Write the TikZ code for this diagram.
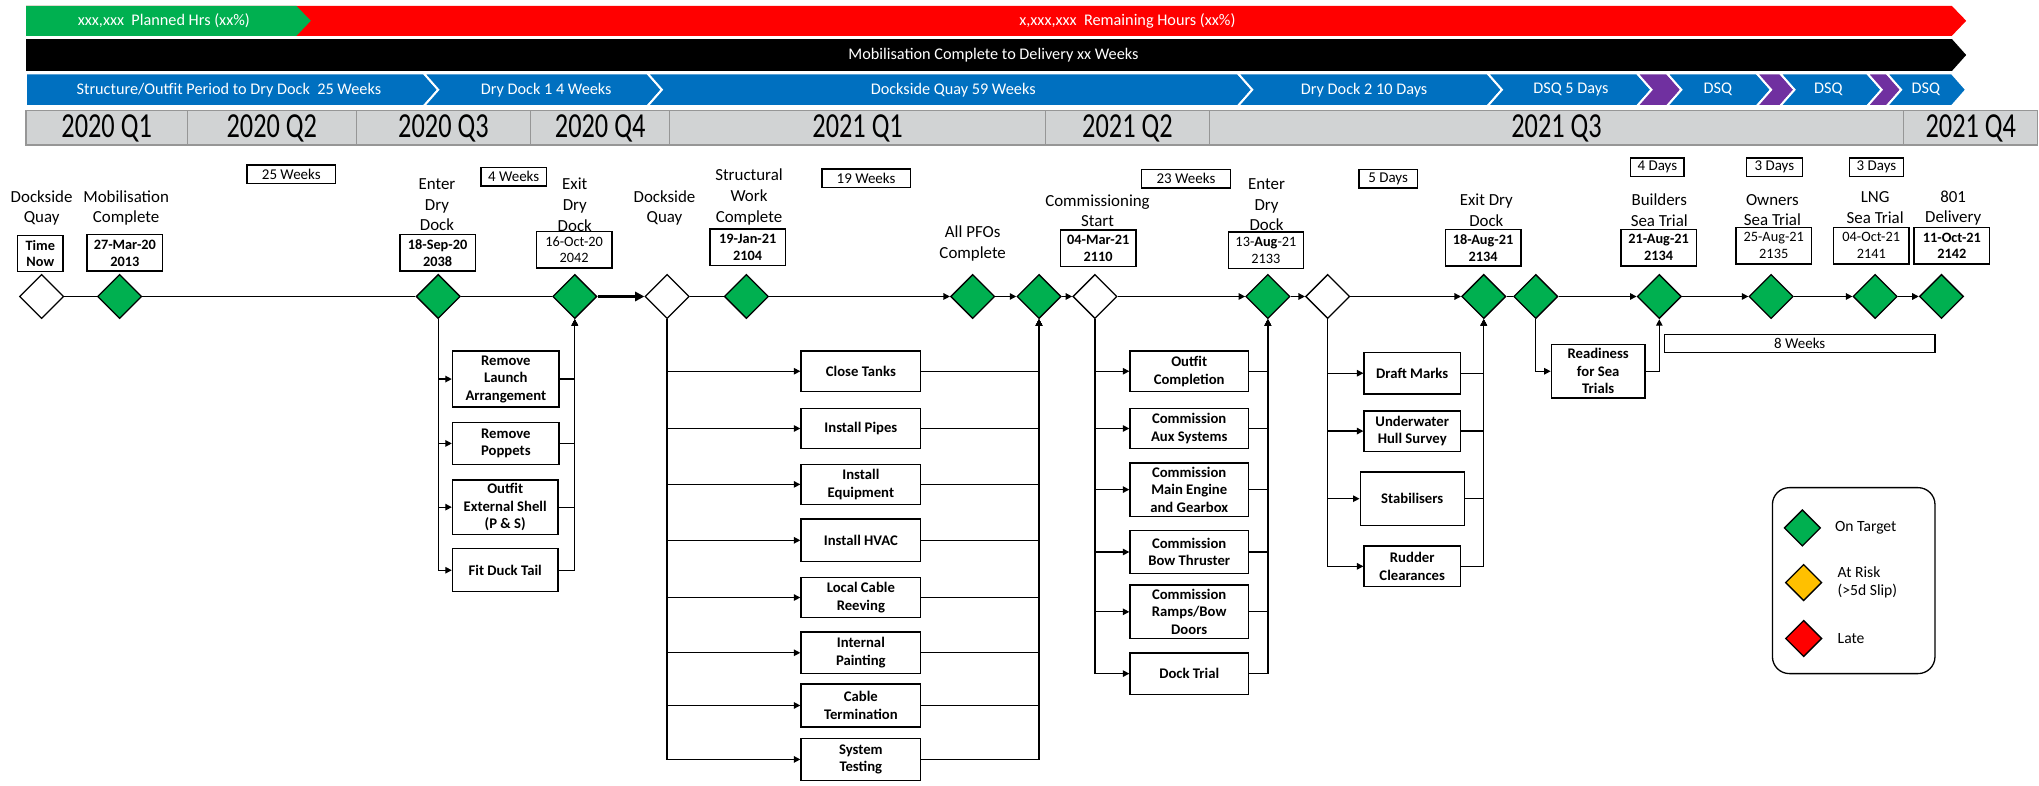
\documentclass[tikz,border=0pt]{standalone}
\usepackage{fontspec}
\setmainfont{Carlito}
\newfontfamily\quarterfont{Carlito}[FakeStretch=0.75]
\usepackage{xcolor}
\usepackage{tikz}
\usetikzlibrary{shapes.geometric, arrows.meta, positioning}
\definecolor{MsGreen}{RGB}{0, 176, 80}
\definecolor{HrsRed}{RGB}{255, 0, 0}
\definecolor{PhaseBlue}{RGB}{0, 112, 192}
\definecolor{PhasePurple}{RGB}{112, 48, 160}
\definecolor{RiskAmber}{RGB}{255, 192, 0}
\definecolor{QtrGrey}{RGB}{209, 211, 212}
\definecolor{QtrEdge}{RGB}{150, 150, 150}

\tikzset{
  ms/.style={diamond, draw=black, line width=1pt, fill=MsGreen,
    minimum width=34, minimum height=34, inner sep=0pt},
  msopen/.style={ms, fill=white},
  mslabel/.style={font=\fontsize{13}{16}\selectfont, align=center, inner sep=0pt},
  datebox/.style={draw, line width=1.1pt, font=\fontsize{11}{13}\selectfont,
    align=center, inner sep=1pt, minimum width=58, minimum height=28},
  durbox/.style={draw, line width=1pt, font=\fontsize{11.5}{12}\selectfont,
    inner sep=0pt, minimum height=14},
  taskbox/.style={draw, line width=1.1pt, font=\fontsize{11.3}{13.5}\selectfont\bfseries,
    align=center, inner sep=1pt},
  link/.style={line width=1pt},
  linkarr/.style={link, -{Triangle[length=5pt, width=5pt]}},
  bartext/.style={text=white, font=\fontsize{12.5}{14}\selectfont, inner sep=0pt},
  qcell/.style={fill=QtrGrey, draw=QtrEdge, line width=0.8pt},
  qlabel/.style={font=\quarterfont\fontsize{27}{28}\selectfont, inner sep=0pt},
  keytext/.style={anchor=west, font=\fontsize{12}{14}\selectfont, align=left, inner sep=0pt}
}

\begin{document}
\begin{tikzpicture}[x=1pt, y=-1pt]
  \useasboundingbox (0,0) rectangle (1568,604);

  % hours bar
  \fill[HrsRed] (20,4.6) -- (1501,4.6) -- (1512,16) -- (1501,27.5) -- (20,27.5) -- cycle;
  \fill[MsGreen] (20,4.6) -- (228,4.6) -- (239,16) -- (228,27.5) -- (20,27.5) -- cycle;
  \node[bartext] (hrsPlan) at (126,16) {xxx,xxx\ \ Planned Hrs (xx\%)};
  \node[bartext] (hrsRem) at (867,16) {x,xxx,xxx\ \ Remaining Hours (xx\%)};

  % duration bar
  \fill[black] (20,30) -- (1501,30) -- (1512,42.3) -- (1501,54.6) -- (20,54.6) -- cycle;
  \node[bartext] (mobDel) at (764,42.3) {Mobilisation Complete to Delivery xx Weeks};

  % phase chevrons
  \filldraw[fill=PhaseBlue, draw=white, line width=1.5pt]
    (20,56.5) -- (326,56.5) -- ++(11,12.5) -- (326,81.5) -- (20,81.5) -- cycle;
  \foreach \sa/\sb/\col in {326/498/PhaseBlue, 498/952/PhaseBlue, 952/1144/PhaseBlue,
      1144/1259/PhaseBlue, 1259/1282/PhasePurple, 1282/1351/PhaseBlue,
      1351/1369/PhasePurple, 1369/1436/PhaseBlue, 1436/1451/PhasePurple,
      1451/1501/PhaseBlue}
    \filldraw[fill=\col, draw=white, line width=1.5pt]
      (\sa,56.5) -- (\sb,56.5) -- ++(11,12.5) -- (\sb,81.5) -- (\sa,81.5) -- ++(11,-12.5) -- cycle;
  \node[bartext] (ph1) at (176,69) {Structure/Outfit Period to Dry Dock\ \ 25 Weeks};
  \node[bartext] (ph2) at (420,69) {Dry Dock 1 4 Weeks};
  \node[bartext] (ph3) at (733,69) {Dockside Quay 59 Weeks};
  \node[bartext] (ph4) at (1049,69) {Dry Dock 2 10 Days};
  \node[bartext] (ph5) at (1208,69) {DSQ 5 Days};
  \node[bartext] (ph6) at (1321,69) {DSQ};
  \node[bartext] (ph7) at (1406,69) {DSQ};
  \node[bartext] (ph8) at (1481,69) {DSQ};

  % quarters
  \foreach \xa/\xb/\lbl [count=\i] in {20/144/2020 Q1, 144/274/2020 Q2, 274/408/2020 Q3,
      408/515/2020 Q4, 515/804/2021 Q1, 804/930/2021 Q2, 930/1464/2021 Q3, 1464/1567/2021 Q4} {
    \draw[qcell] (\xa,85) rectangle (\xb,111.5);
    \node[qlabel] (qtr\i) at ({(\xa+\xb)/2},98.5) {\lbl};
  }

  % milestones
  \node[msopen] (dqA) at (32,228) {};
  \node[ms] (mob) at (92,228) {};
  \node[ms] (edd1) at (337,228) {};
  \node[ms] (xdd1) at (442,228) {};
  \node[msopen] (dqB) at (513,228) {};
  \node[ms] (swc) at (574,228) {};
  \node[ms] (pfo) at (748,228) {};
  \node[ms] (pfo2) at (799,228) {};
  \node[msopen] (cst) at (842,228) {};
  \node[ms] (edd2) at (975,228) {};
  \node[msopen] (dqC) at (1021,228) {};
  \node[ms] (xdd2) at (1141,228) {};
  \node[ms] (xdd2b) at (1181,228) {};
  \node[ms] (bst) at (1276,228) {};
  \node[ms] (ost) at (1362,228) {};
  \node[ms] (lng) at (1442,228) {};
  \node[ms] (dlv) at (1493,228) {};

  % milestone labels and dates
  \node[mslabel] (dqAlbl) at (32,160) {Dockside\\Quay};
  \node[datebox, minimum width=35] (dqAdate) at (31,195) {\bfseries Time\\\bfseries Now};
  \node[mslabel] (moblbl) at (97,160) {Mobilisation\\Complete};
  \node[datebox] (mobdate) at (96,194.5) {\bfseries 27-Mar-20\\\bfseries 2013};
  \node[mslabel] (edd1lbl) at (336,157.5) {Enter\\Dry\\Dock};
  \node[datebox] (edd1date) at (336.5,194.5) {\bfseries 18-Sep-20\\\bfseries 2038};
  \node[mslabel] (xdd1lbl) at (442,157.5) {Exit\\Dry\\Dock};
  \node[datebox] (xdd1date) at (441.5,192) {16-Oct-20\\2042};
  \node[mslabel] (dqBlbl) at (511,160) {Dockside\\Quay};
  \node[mslabel] (swclbl) at (576,151.5) {Structural\\Work\\Complete};
  \node[datebox] (swcdate) at (575,190) {\bfseries 19-Jan-21\\\bfseries 2104};
  \node[mslabel] (pfolbl) at (748,187.5) {All PFOs\\Complete};
  \node[mslabel] (cstlbl) at (844,162) {Commissioning\\Start};
  \node[datebox] (cstdate) at (844.5,191) {\bfseries 04-Mar-21\\\bfseries 2110};
  \node[mslabel] (edd2lbl) at (974,157.5) {Enter\\Dry\\Dock};
  \node[datebox] (edd2date) at (973.5,192.5) {13-\textbf{Aug}-21\\2133};
  \node[mslabel] (xdd2lbl) at (1143,161.5) {Exit Dry\\Dock};
  \node[datebox] (xdd2date) at (1140.5,190.5) {\bfseries 18-Aug-21\\\bfseries 2134};
  \node[mslabel] (bstlbl) at (1276,161.5) {Builders\\Sea Trial};
  \node[datebox] (bstdate) at (1275.5,190.5) {\bfseries 21-Aug-21\\\bfseries 2134};
  \node[mslabel] (ostlbl) at (1363,161.5) {Owners\\Sea Trial};
  \node[datebox] (ostdate) at (1364,189) {25-Aug-21\\2135};
  \node[mslabel] (lnglbl) at (1442,159.5) {LNG\\Sea Trial};
  \node[datebox] (lngdate) at (1439,189) {04-Oct-21\\2141};
  \node[mslabel] (dlvlbl) at (1502,160) {801\\Delivery};
  \node[datebox] (dlvdate) at (1501,189) {\bfseries 11-Oct-21\\\bfseries 2142};

  % durations
  \node[durbox, minimum width=68] (dur1) at (224,134) {25 Weeks};
  \node[durbox, minimum width=50] (dur2) at (395,136) {4 Weeks};
  \node[durbox, minimum width=68] (dur3) at (666,137) {19 Weeks};
  \node[durbox, minimum width=68] (dur4) at (912,137.5) {23 Weeks};
  \node[durbox, minimum width=45] (dur5) at (1067.5,137.5) {5 Days};
  \node[durbox, minimum width=41] (dur6) at (1274.5,128.5) {4 Days};
  \node[durbox, minimum width=43] (dur7) at (1364.5,128.5) {3 Days};
  \node[durbox, minimum width=42] (dur8) at (1443,128.5) {3 Days};
  \node[durbox, minimum width=208] (dur9) at (1384,264) {8 Weeks};

  % dry dock 1 tasks
  \node[taskbox, minimum width=82, minimum height=43] (tA1) at (389,291.5) {Remove\\Launch\\Arrangement};
  \node[taskbox, minimum width=82, minimum height=32] (tA2) at (389,341) {Remove\\Poppets};
  \node[taskbox, minimum width=81, minimum height=42] (tA3) at (388.5,390) {Outfit\\External Shell\\(P \& S)};
  \node[taskbox, minimum width=81, minimum height=33] (tA4) at (388.5,438.5) {Fit Duck Tail};

  % dockside quay tasks
  \node[taskbox, minimum width=92, minimum height=31] (tB1) at (662,285.5) {Close Tanks};
  \node[taskbox, minimum width=92, minimum height=31] (tB2) at (662,329.5) {Install Pipes};
  \node[taskbox, minimum width=92, minimum height=31] (tB3) at (662,372.5) {Install\\Equipment};
  \node[taskbox, minimum width=92, minimum height=33] (tB4) at (662,415.5) {Install HVAC};
  \node[taskbox, minimum width=92, minimum height=31] (tB5) at (662,459.5) {Local Cable\\Reeving};
  \node[taskbox, minimum width=92, minimum height=32] (tB6) at (662,502) {Internal\\Painting};
  \node[taskbox, minimum width=92, minimum height=33] (tB7) at (662,542.5) {Cable\\Termination};
  \node[taskbox, minimum width=92, minimum height=32] (tB8) at (662,584) {System\\Testing};

  % commissioning tasks
  \node[taskbox, minimum width=91, minimum height=31] (tC1) at (914.5,285.5) {Outfit\\Completion};
  \node[taskbox, minimum width=91, minimum height=31] (tC2) at (914.5,329.5) {Commission\\Aux Systems};
  \node[taskbox, minimum width=91, minimum height=41] (tC3) at (914.5,376.5) {Commission\\Main Engine\\and Gearbox};
  \node[taskbox, minimum width=91, minimum height=33] (tC4) at (914.5,424.5) {Commission\\Bow Thruster};
  \node[taskbox, minimum width=91, minimum height=41] (tC5) at (914.5,470.5) {Commission\\Ramps/Bow\\Doors};
  \node[taskbox, minimum width=91, minimum height=32] (tC6) at (914.5,518) {Dock Trial};

  % dry dock 2 tasks
  \node[taskbox, minimum width=74, minimum height=32] (tD1) at (1086,287) {Draft Marks};
  \node[taskbox, minimum width=74, minimum height=31] (tD2) at (1086,331.5) {Underwater\\Hull Survey};
  \node[taskbox, minimum width=80, minimum height=41] (tD3) at (1086,383.5) {Stabilisers};
  \node[taskbox, minimum width=74, minimum height=31] (tD4) at (1086,435.5) {Rudder\\Clearances};

  \node[taskbox, minimum width=72, minimum height=41] (rdy) at (1229,285.5) {Readiness\\for Sea\\Trials};

  % main line
  \draw[link] (dqA) -- (mob);
  \draw[link] (mob) -- (edd1);
  \draw[link] (edd1) -- (xdd1);
  \draw[link, line width=2.2pt, -{Triangle[length=7pt, width=7pt]}] (xdd1) -- (dqB);
  \draw[link] (dqB) -- (swc);
  \draw[linkarr] (swc) -- (pfo);
  \draw[linkarr] (pfo) -- (pfo2);
  \draw[linkarr] (pfo2) -- (cst);
  \draw[linkarr] (cst) -- (edd2);
  \draw[linkarr] (edd2) -- (dqC);
  \draw[linkarr] (dqC) -- (xdd2);
  \draw[link] (xdd2) -- (xdd2b);
  \draw[linkarr] (xdd2b) -- (bst);
  \draw[linkarr] (bst) -- (ost);
  \draw[linkarr] (ost) -- (lng);
  \draw[linkarr] (lng) -- (dlv);

  % branches
  \foreach \t in {tA1,tA2,tA3,tA4} {
    \draw[linkarr] (edd1.south) |- (\t.west);
    \draw[linkarr] (\t.east) -| (xdd1.south);
  }
  \foreach \t in {tB1,tB2,tB3,tB4,tB5,tB6,tB7,tB8} {
    \draw[linkarr] (dqB.south) |- (\t.west);
    \draw[linkarr] (\t.east) -| (pfo2.south);
  }
  \foreach \t in {tC1,tC2,tC3,tC4,tC5,tC6} {
    \draw[linkarr] (cst.south) |- (\t.west);
    \draw[linkarr] (\t.east) -| (edd2.south);
  }
  \foreach \t in {tD1,tD2,tD3,tD4} {
    \draw[linkarr] (dqC.south) |- (\t.west);
    \draw[linkarr] (\t.east) -| (xdd2.south);
  }
  \draw[linkarr] (xdd2b.south) |- (rdy.west);
  \draw[linkarr] (rdy.east) -| (bst.south);

  % key
  \node[draw, line width=1pt, rounded corners=13pt, minimum width=125, minimum height=143] (legend) at (1425.5,446.5) {};
  \node[ms, minimum width=28, minimum height=28] (lgOnD) at (1386,406) {};
  \node[ms, fill=RiskAmber, minimum width=28, minimum height=28] (lgRiskD) at (1387,448) {};
  \node[ms, fill=HrsRed, minimum width=28, minimum height=28] (lgLateD) at (1387,491) {};
  \node[keytext] (lgOn) at (1411,406) {On Target};
  \node[keytext] (lgRisk) at (1413,448) {At Risk\\(>5d Slip)};
  \node[keytext] (lgLate) at (1413,491) {Late};
\end{tikzpicture}
\end{document}
